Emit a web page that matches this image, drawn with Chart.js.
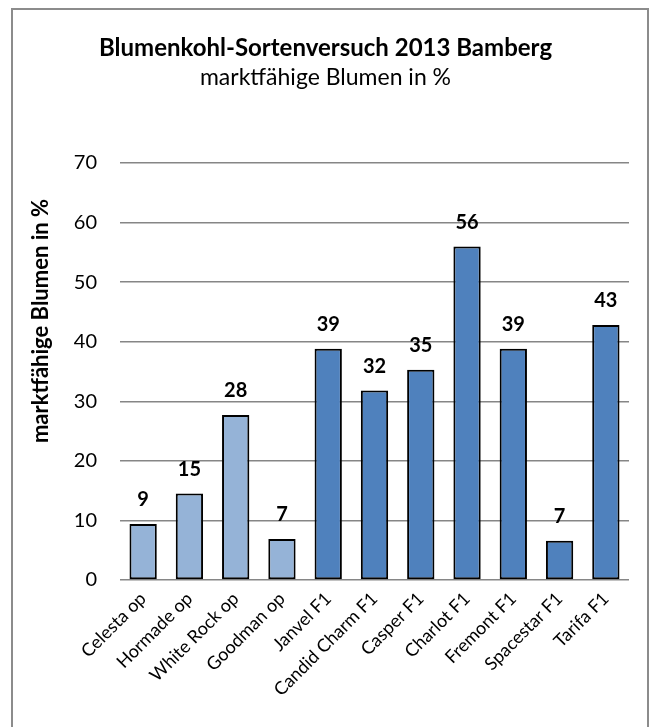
<!DOCTYPE html>
<html>
<head>
<meta charset="utf-8">
<script src="https://cdn.jsdelivr.net/npm/chart.js@4/dist/chart.umd.min.js"></script>
<style>
html,body{margin:0;padding:0;background:#fff;}
#wrap{width:651px;height:727px;position:relative;}
</style>
</head>
<body>
<div id="wrap"><canvas id="c" width="651" height="727"></canvas></div>
<script>
const categories = ["Celesta op","Hormade op","White Rock op","Goodman op","Janvel F1","Candid Charm F1","Casper F1","Charlot F1","Fremont F1","Spacestar F1","Tarifa F1"];
const values = [9.4, 14.5, 27.7, 6.9, 38.8, 31.8, 35.3, 56.0, 38.8, 6.6, 42.8];
const dataLabels = ["9","15","28","7","39","32","35","56","39","7","43"];
const groupKind = ["op","op","op","op","F1","F1","F1","F1","F1","F1","F1"];
const yTicks = [0,10,20,30,40,50,60,70];
const titleText = "Blumenkohl-Sortenversuch 2013 Bamberg";
const subtitleText = "marktfähige Blumen in %";
const yTitleText = "marktfähige Blumen in %";

const FONT = "Lato, 'Open Sans', sans-serif";
const colors = groupKind.map(k => k === "op" ? "#95B3D7" : "#4F81BD");

const decor = {
  id: 'decor',
  beforeDraw(chart) {
    const ctx = chart.ctx;
    ctx.save();
    ctx.fillStyle = '#fff';
    ctx.fillRect(0, 0, chart.width, chart.height);
    ctx.restore();
  },
  afterDraw(chart) {
    const ctx = chart.ctx;
    ctx.save();
    ctx.strokeStyle = '#8c8c8c';
    ctx.lineWidth = 2;
    ctx.strokeRect(12, 9, 636, 730);
    // y axis title
    ctx.translate(41, 321);
    ctx.rotate(-Math.PI / 2);
    ctx.font = "bold 22px " + FONT;
    ctx.fillStyle = '#000';
    ctx.textAlign = 'center';
    ctx.textBaseline = 'middle';
    ctx.fillText(yTitleText, 0, 0);
    ctx.restore();
  },
  afterDatasetsDraw(chart) {
    const ctx = chart.ctx;
    const meta = chart.getDatasetMeta(0);
    ctx.save();
    ctx.font = "bold 20px " + FONT;
    ctx.fillStyle = '#000';
    ctx.textAlign = 'center';
    ctx.textBaseline = 'middle';
    meta.data.forEach((bar, i) => {
      ctx.fillText(dataLabels[i], bar.x, bar.y - 24);
    });
    ctx.restore();
  }
};

new Chart(document.getElementById('c'), {
  type: 'bar',
  data: {
    labels: categories,
    datasets: [{
      data: values,
      backgroundColor: colors,
      borderColor: '#000',
      borderWidth: 2,
      borderSkipped: false,
      categoryPercentage: 1,
      barPercentage: 0.59
    }]
  },
  options: {
    responsive: false,
    animation: false,
    devicePixelRatio: 1,
    layout: { padding: { left: 22, right: 22, top: 0, bottom: 0 } },
    plugins: {
      legend: { display: false },
      tooltip: { enabled: false },
      title: {
        display: true,
        text: titleText,
        color: '#000',
        font: { family: FONT, size: 24, weight: 'bold', lineHeight: 1.2 },
        padding: { top: 33.6, bottom: 0 }
      },
      subtitle: {
        display: true,
        text: subtitleText,
        color: '#000',
        font: { family: FONT, size: 23, weight: 'normal', lineHeight: 1.2 },
        padding: { top: 1.8, bottom: 71.2 }
      }
    },
    scales: {
      x: {
        grid: { display: false, drawTicks: false },
        border: { display: false },
        ticks: {
          color: '#000',
          font: { family: FONT, size: 18 },
          maxRotation: 45,
          minRotation: 45,
          autoSkip: false,
          padding: 8
        },
        afterFit(scale) { scale.height = 147; }
      },
      y: {
        min: 0,
        max: 70,
        afterBuildTicks(scale) { scale.ticks = yTicks.map(v => ({ value: v })); },
        grid: { color: '#868686', lineWidth: 1.5, drawTicks: false },
        border: { display: false },
        ticks: {
          color: '#000',
          font: { family: FONT, size: 20 },
          padding: 23
        },
        afterFit(scale) { scale.width = 98; }
      }
    }
  },
  plugins: [decor]
});
</script>
</body>
</html>
